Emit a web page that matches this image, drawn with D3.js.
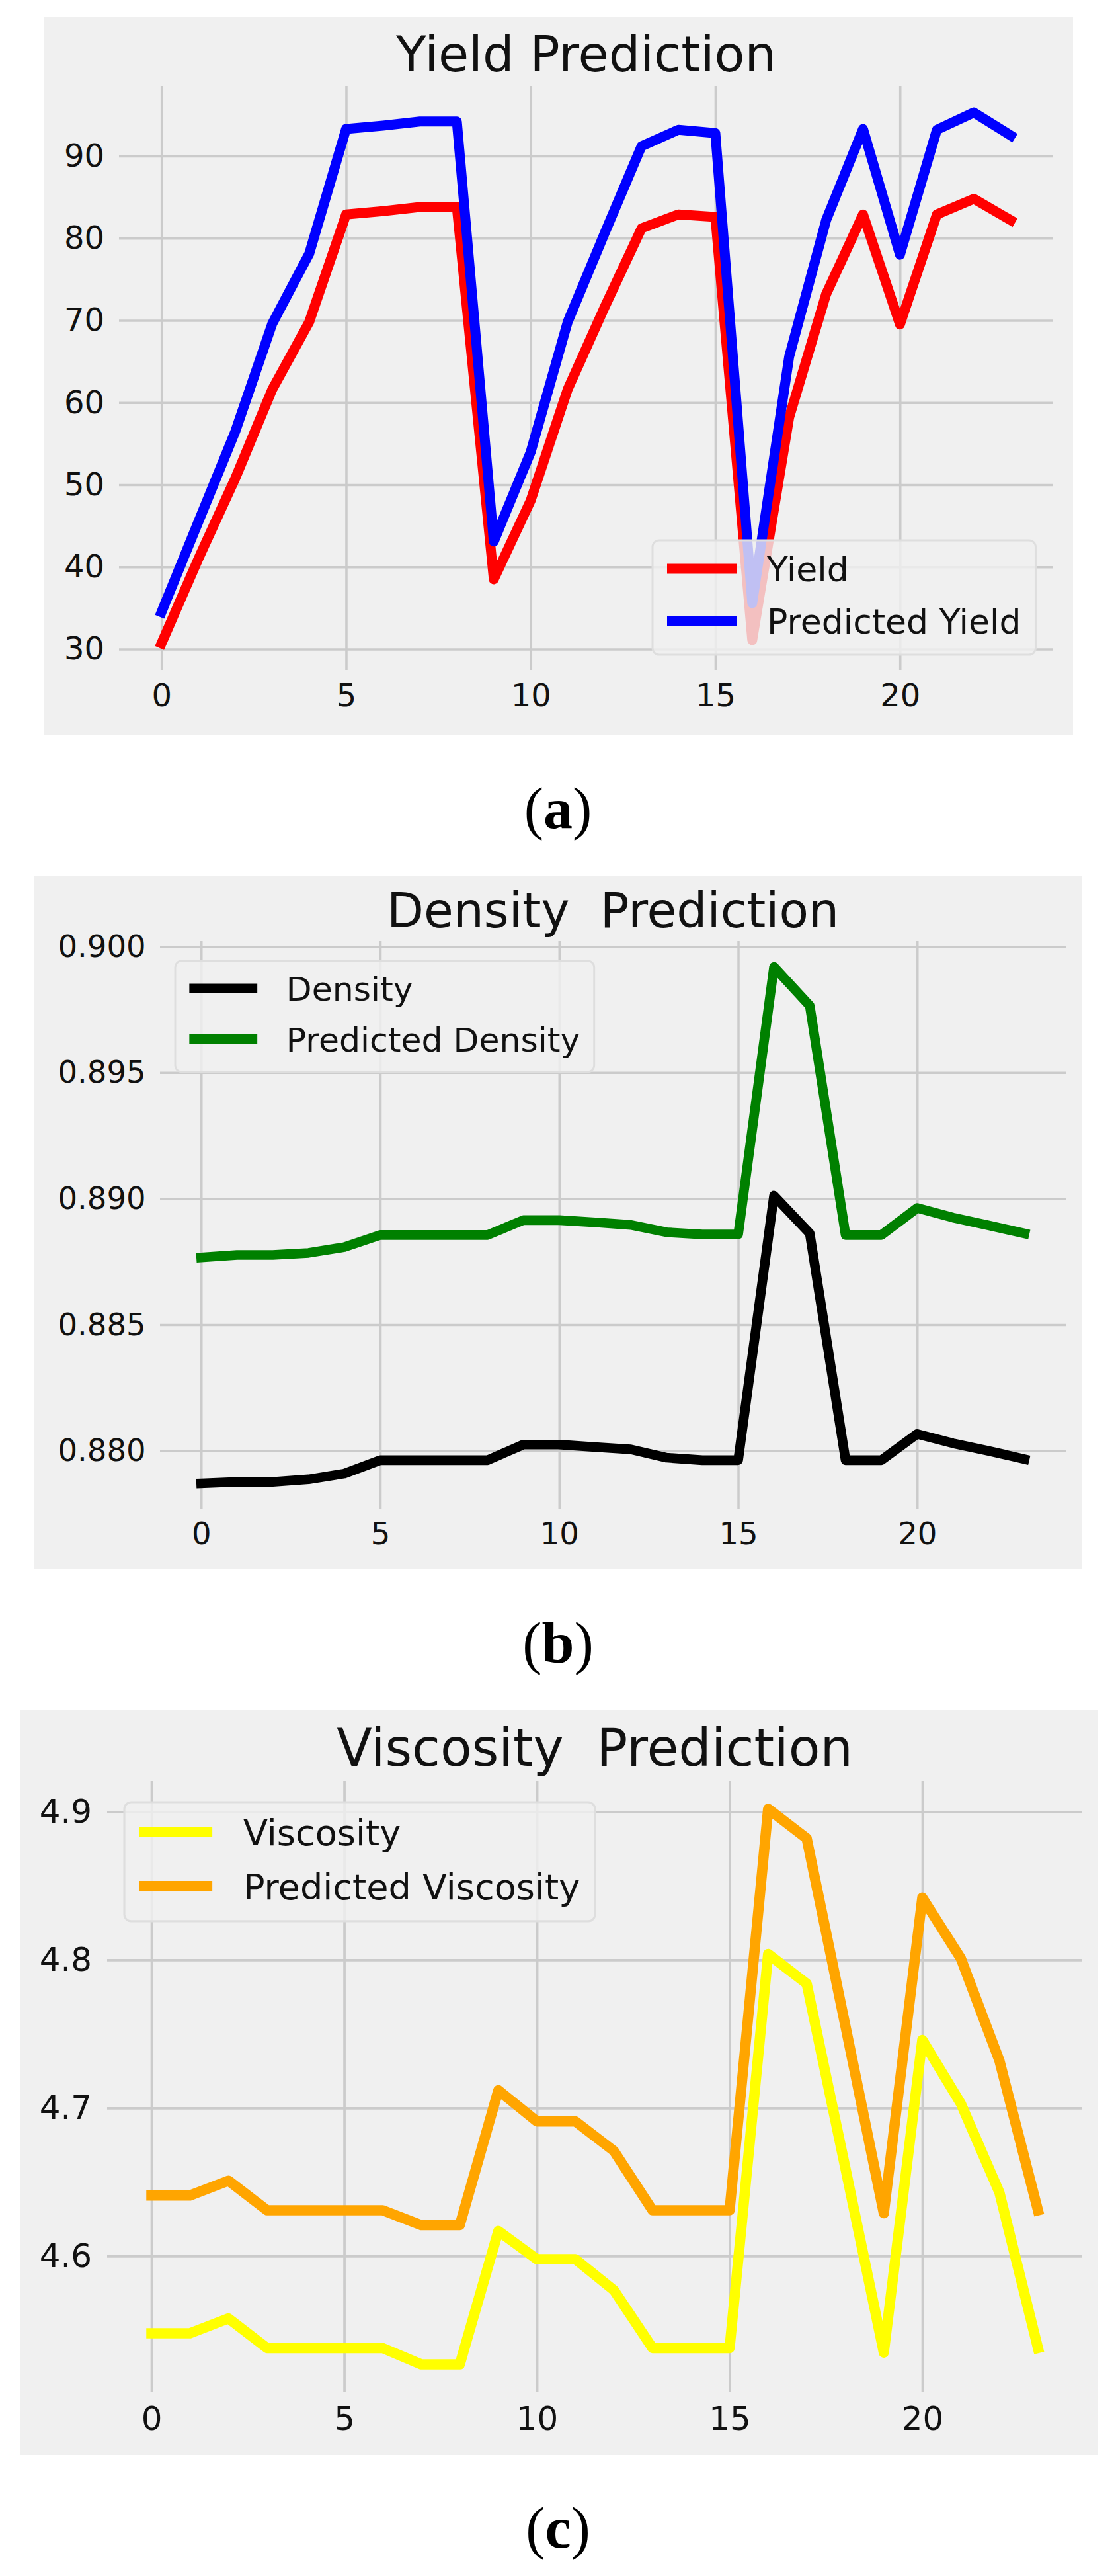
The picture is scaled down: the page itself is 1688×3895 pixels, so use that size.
<!DOCTYPE html>
<html>
<head>
<meta charset="utf-8">
<script src="https://cdn.jsdelivr.net/npm/d3@7"></script>
<style>
  body { margin: 0; background: #fff; }
  svg { display: block; }
  text { white-space: pre; }
</style>
</head>
<body>
<script>
// x axis: sample index 0..23
const idx = d3.range(24);

// (a) yield
const yieldActual = [30.7, 41.0, 50.8, 61.6, 69.8, 82.9, 83.3, 83.8, 83.8, 38.5, 48.1, 61.6,
  71.6, 81.2, 82.9, 82.6, 31.1, 58.2, 73.2, 82.9, 69.5, 82.9, 84.8, 82.2];
const yieldPred = [34.5, 45.5, 56.5, 69.6, 78.1, 93.3, 93.7, 94.2, 94.2, 43.1, 54.0, 69.8,
  80.6, 91.2, 93.2, 92.8, 35.6, 65.6, 82.2, 93.3, 78.0, 93.2, 95.3, 92.5];

// (b) density
const densActual = [0.87871, 0.87877, 0.87877, 0.87887, 0.8791, 0.87963, 0.87963, 0.87963,
  0.87963, 0.88025, 0.88025, 0.88015, 0.88006, 0.87973, 0.87963, 0.87963, 0.89012, 0.88862,
  0.87963, 0.87963, 0.88067, 0.8803, 0.88, 0.87967];
const densPred = [0.88767, 0.88777, 0.88777, 0.88785, 0.88808, 0.88856, 0.88856, 0.88856,
  0.88856, 0.88915, 0.88915, 0.88906, 0.88896, 0.88867, 0.88858, 0.88858, 0.89919, 0.89765,
  0.88856, 0.88856, 0.88963, 0.88925, 0.88894, 0.88862];

// (c) viscosity
const viscActual = [4.548, 4.548, 4.558, 4.538, 4.538, 4.538, 4.538, 4.527, 4.527, 4.617,
  4.598, 4.598, 4.577, 4.538, 4.538, 4.538, 4.804, 4.784, 4.66, 4.535, 4.746, 4.703, 4.643, 4.538];
const viscPred = [4.641, 4.641, 4.651, 4.631, 4.631, 4.631, 4.631, 4.621, 4.621, 4.712,
  4.691, 4.691, 4.671, 4.631, 4.631, 4.631, 4.902, 4.882, 4.756, 4.629, 4.842, 4.801, 4.732, 4.631];

const xTicks = [0, 5, 10, 15, 20];
const yieldTicks = [30, 40, 50, 60, 70, 80, 90];
const densTicks = [0.880, 0.885, 0.890, 0.895, 0.900];
const viscTicks = [4.6, 4.7, 4.8, 4.9];

const svg = d3.select("body")
  .append("svg")
  .attr("width", 1688)
  .attr("height", 3895);

// one panel = matplotlib fivethirtyeight style line plot
function panel(p) {
  const k = p.k;
  const g = svg.append("g");

  g.append("rect")
    .attr("x", p.bg[0]).attr("y", p.bg[1])
    .attr("width", p.bg[2] - p.bg[0]).attr("height", p.bg[3] - p.bg[1])
    .attr("fill", "#f0f0f0");

  const [L, T, R, B] = p.plot;

  // matplotlib style 5% margins
  const xr = d3.extent(idx);
  const xm = (xr[1] - xr[0]) * 0.05;
  const x = d3.scaleLinear().domain([xr[0] - xm, xr[1] + xm]).range([L, R]);

  const all = p.series.flatMap(s => s.values);
  const yr = d3.extent(all);
  const ym = (yr[1] - yr[0]) * 0.05;
  const y = d3.scaleLinear().domain([yr[0] - ym, yr[1] + ym]).range([B, T]);

  // grid + tick labels
  const yAxis = g.append("g")
    .attr("transform", `translate(${L},0)`)
    .call(d3.axisLeft(y).tickValues(p.yTicks).tickFormat(d3.format(p.fmt))
      .tickSize(-(R - L)).tickPadding(22 * k));
  const xAxis = g.append("g")
    .attr("transform", `translate(0,${B})`)
    .call(d3.axisBottom(x).tickValues(xTicks).tickFormat(d3.format("d"))
      .tickSize(-(B - T)).tickPadding(21 * k));

  [yAxis, xAxis].forEach(a => {
    a.select(".domain").remove();
    a.selectAll("line").attr("stroke", "#cbcbcb").attr("stroke-width", 3.6 * k);
    a.selectAll("text")
      .attr("fill", "#111")
      .style("font-family", "DejaVu Sans")
      .style("font-size", (48 * k) + "px");
  });

  // title
  g.append("text")
    .attr("x", (L + R) / 2)
    .attr("y", T - 22 * k)
    .attr("text-anchor", "middle")
    .style("font-family", "DejaVu Sans")
    .style("font-size", (75 * k) + "px")
    .attr("fill", "#111")
    .text(p.title);

  const line = d3.line()
    .x((d, i) => x(idx[i]))
    .y(d => y(d));

  p.series.forEach(s => {
    g.append("path")
      .datum(s.values)
      .attr("d", line)
      .attr("fill", "none")
      .attr("stroke", s.color)
      .attr("stroke-width", 15 * k)
      .attr("stroke-linejoin", "round")
      .attr("stroke-linecap", "square");
  });

  // legend
  const [lx, ly] = p.legend;
  const lg = g.append("g").attr("transform", `translate(${lx},${ly})`);
  const box = lg.append("rect")
    .attr("rx", 10 * k)
    .attr("height", 173 * k)
    .attr("fill", "#f0f0f0")
    .attr("fill-opacity", 0.8)
    .attr("stroke", "#dedede")
    .attr("stroke-width", 3 * k);

  let maxW = 0;
  p.series.forEach((s, i) => {
    const cy = (43 + i * 79) * k;
    lg.append("line")
      .attr("x1", 22 * k).attr("x2", 128 * k)
      .attr("y1", cy).attr("y2", cy)
      .attr("stroke", s.color)
      .attr("stroke-width", 15 * k);
    const t = lg.append("text")
      .attr("x", 173 * k)
      .attr("y", cy)
      .attr("dy", "0.37em")
      .style("font-family", "DejaVu Sans")
      .style("font-size", (52 * k) + "px")
      .attr("fill", "#111")
      .text(s.name);
    maxW = Math.max(maxW, t.node().getComputedTextLength());
  });
  box.attr("width", 173 * k + maxW + 22 * k);

  // caption (a) (b) (c)
  const cap = svg.append("text")
    .attr("x", 844)
    .attr("y", p.capY)
    .attr("text-anchor", "middle")
    .style("font-family", "Liberation Serif")
    .style("font-size", "88px")
    .attr("fill", "#000");
  cap.append("tspan").text("(");
  cap.append("tspan").attr("font-weight", "bold").text(p.cap);
  cap.append("tspan").text(")");
}

panel({
  k: 1.0,
  bg: [67, 25, 1623, 1111],
  plot: [180, 130, 1593, 1013],
  title: "Yield Prediction",
  yTicks: yieldTicks, fmt: "d",
  series: [
    { name: "Yield", values: yieldActual, color: "#ff0000" },
    { name: "Predicted Yield", values: yieldPred, color: "#0000ff" }
  ],
  legend: [987, 817],
  cap: "a", capY: 1252
});

panel({
  k: 0.97,
  bg: [51, 1324, 1636, 2373],
  plot: [242, 1423, 1612, 2282],
  title: "Density  Prediction",
  yTicks: densTicks, fmt: ".3f",
  series: [
    { name: "Density", values: densActual, color: "#000000" },
    { name: "Predicted Density", values: densPred, color: "#008000" }
  ],
  legend: [265, 1453],
  cap: "b", capY: 2514
});

panel({
  k: 1.04,
  bg: [30, 2585, 1661, 3712],
  plot: [162, 2693, 1637, 3617],
  title: "Viscosity  Prediction",
  yTicks: viscTicks, fmt: ".1f",
  series: [
    { name: "Viscosity", values: viscActual, color: "#ffff00" },
    { name: "Predicted Viscosity", values: viscPred, color: "#ffa500" }
  ],
  legend: [188, 2725],
  cap: "c", capY: 3852
});
</script>
</body>
</html>
